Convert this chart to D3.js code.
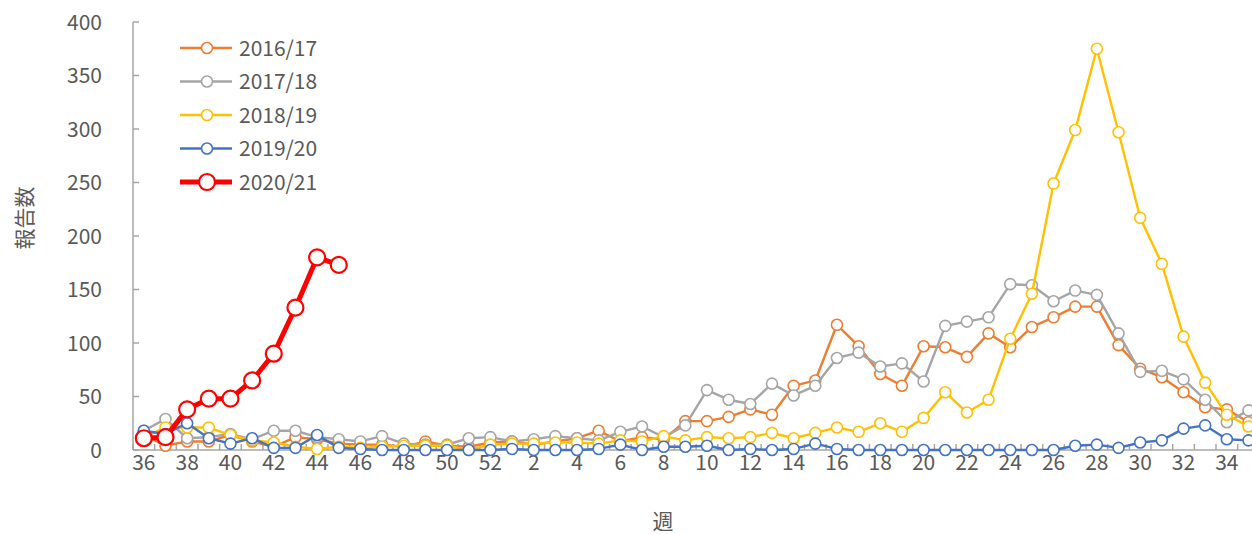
<!DOCTYPE html>
<html>
<head>
<meta charset="utf-8">
<script src="https://cdn.jsdelivr.net/npm/d3@7"></script>
<style>
  body { margin: 0; background: #ffffff; }
  #chart_div text { font-family: "Noto Sans CJK JP", "Noto Sans", sans-serif; fill: #595959; }
</style>
</head>
<body>
<div id="chart_div"></div>
<div id="chart_err"></div>
<script>
// Week numbers of the season (36..52, then 1..35)
var weeks = [36, 37, 38, 39, 40, 41, 42, 43, 44, 45, 46, 47, 48, 49, 50, 51, 52,
  1, 2, 3, 4, 5, 6, 7, 8, 9, 10, 11, 12, 13, 14, 15, 16, 17, 18, 19, 20,
  21, 22, 23, 24, 25, 26, 27, 28, 29, 30, 31, 32, 33, 34, 35];

var yTicks = [0, 50, 100, 150, 200, 250, 300, 350, 400];

var seasons = ["2016/17", "2017/18", "2018/19", "2019/20", "2020/21"];

// Reports per week
var s2016 = [14, 4, 8, 8, 14, 8, 3, 12, 10, 6, 5, 5, 3, 8, 4, 3, 7,
  8, 5, 8, 11, 18, 8, 12, 10, 27, 27, 31, 38, 33, 60, 65, 117, 97, 71, 60, 97,
  96, 87, 109, 96, 115, 124, 134, 134, 98, 76, 68, 54, 40, 38, 26];
var s2017 = [18, 29, 11, 12, 15, 10, 18, 18, 12, 10, 8, 13, 6, 5, 5, 11, 12,
  8, 10, 13, 11, 9, 17, 22, 12, 23, 56, 47, 43, 62, 51, 60, 86, 91, 78, 81, 64,
  116, 120, 124, 155, 154, 139, 149, 145, 109, 73, 74, 66, 47, 26, 37];
var s2018 = [12, 21, 21, 21, 14, 9, 7, 3, 1, 3, 2, 3, 4, 4, 4, 0, 5,
  6, 6, 7, 7, 6, 9, 8, 13, 9, 12, 11, 12, 16, 11, 16, 21, 17, 25, 17, 30,
  54, 35, 47, 104, 146, 249, 299, 375, 297, 217, 174, 106, 63, 33, 22];
var s2019 = [18, 15, 25, 11, 6, 11, 2, 2, 14, 2, 1, 0, 0, 0, 0, 0, 0,
  1, 0, 0, 0, 1, 5, 0, 3, 3, 4, 0, 1, 0, 1, 6, 1, 0, 0, 0, 0,
  0, 0, 0, 0, 0, 0, 4, 5, 2, 7, 9, 20, 23, 10, 9];
var s2020 = [11, 12, 38, 48, 48, 65, 90, 133, 180, 173];

var colors = ["#ED7D31", "#A5A5A5", "#FFC000", "#4472C4", "#FF0000"];

var ru = (function (d3) {
  "use strict";

  var loc_divErr = "chart_err";

  var private_methods = {
    errMsg: function (sMsg, ex) {
      document.getElementById(loc_divErr).innerHTML = "Error in [" + sMsg + "]<br>" + ex.message;
    },
    // Line width and marker size: the current season is drawn heavier
    styleOf: function (iIdx) {
      if (iIdx === 4) return { lw: 5, r: 8, sw: 2.2 };
      return { lw: 2.4, r: 5.5, sw: 1.6 };
    }
  };

  return {
    draw: function (sDiv) {
      var width = 1252, height = 534,
          left = 133, top = 22, bottom = 450,
          band = 21.66,
          svg = null, x = null, y = null, line = null,
          lData = [s2016, s2017, s2018, s2019, s2020],
          axisColor = "#A6A6A6";

      try {
        svg = d3.select(sDiv).append("svg")
          .attr("width", width)
          .attr("height", height);

        x = d3.scaleBand()
          .domain(d3.range(weeks.length))
          .range([left, left + band * weeks.length])
          .padding(0);
        y = d3.scaleLinear().domain([0, 400]).range([bottom, top]);

        // Y axis: line, inside ticks, labels
        svg.append("line")
          .attr("x1", left).attr("x2", left)
          .attr("y1", y(400)).attr("y2", y(0))
          .attr("stroke", axisColor).attr("stroke-width", 1.5);
        svg.selectAll(".ytick").data(yTicks).enter().append("line")
          .attr("x1", left).attr("x2", left + 6)
          .attr("y1", function (d) { return y(d); })
          .attr("y2", function (d) { return y(d); })
          .attr("stroke", axisColor).attr("stroke-width", 1.5);
        svg.selectAll(".ylab").data(yTicks).enter().append("text")
          .attr("x", 102)
          .attr("y", function (d) { return y(d); })
          .attr("dy", "0.36em")
          .attr("text-anchor", "end")
          .style("font-size", "21px")
          .text(function (d) { return d; });

        // X axis: line, ticks between categories, labels on every other week
        svg.append("line")
          .attr("x1", left).attr("x2", width)
          .attr("y1", bottom).attr("y2", bottom)
          .attr("stroke", axisColor).attr("stroke-width", 1.5);
        svg.selectAll(".xtick").data(d3.range(weeks.length + 1)).enter().append("line")
          .attr("x1", function (i) { return left + i * x.bandwidth(); })
          .attr("x2", function (i) { return left + i * x.bandwidth(); })
          .attr("y1", bottom).attr("y2", bottom - 6)
          .attr("stroke", axisColor).attr("stroke-width", 1.5);
        svg.selectAll(".xlab").data(d3.range(0, weeks.length, 2)).enter().append("text")
          .attr("x", function (i) { return x(i) + x.bandwidth() / 2; })
          .attr("y", 470)
          .attr("text-anchor", "middle")
          .style("font-size", "21px")
          .text(function (i) { return weeks[i]; });

        // Axis titles
        svg.append("text")
          .attr("x", 663).attr("y", 529)
          .attr("text-anchor", "middle")
          .style("font-size", "21px")
          .text("週");
        svg.append("text")
          .attr("transform", "translate(32,218) rotate(-90)")
          .attr("text-anchor", "middle")
          .style("font-size", "21px")
          .text("報告数");

        line = d3.line()
          .x(function (d, i) { return x(i) + x.bandwidth() / 2; })
          .y(function (d) { return y(d); });

        // Series, oldest first so the current season ends up on top
        lData.forEach(function (aVal, iIdx) {
          var oSt = private_methods.styleOf(iIdx),
              g = svg.append("g");
          g.append("path")
            .datum(aVal)
            .attr("d", line)
            .attr("fill", "none")
            .attr("stroke", colors[iIdx])
            .attr("stroke-width", oSt.lw)
            .attr("stroke-linejoin", "round");
          g.selectAll("circle").data(aVal).enter().append("circle")
            .attr("cx", function (d, i) { return x(i) + x.bandwidth() / 2; })
            .attr("cy", function (d) { return y(d); })
            .attr("r", oSt.r)
            .attr("fill", "#ffffff")
            .attr("stroke", colors[iIdx])
            .attr("stroke-width", oSt.sw);
        });

        // Legend
        var leg = svg.selectAll(".leg").data(seasons).enter().append("g")
          .attr("transform", function (d, i) { return "translate(180," + (48 + i * 33.5) + ")"; });
        leg.append("line")
          .attr("x1", 0).attr("x2", 52)
          .attr("stroke", function (d, i) { return colors[i]; })
          .attr("stroke-width", function (d, i) { return private_methods.styleOf(i).lw; });
        leg.append("circle")
          .attr("cx", 27)
          .attr("r", function (d, i) { return private_methods.styleOf(i).r; })
          .attr("fill", "#ffffff")
          .attr("stroke", function (d, i) { return colors[i]; })
          .attr("stroke-width", function (d, i) { return private_methods.styleOf(i).sw; });
        leg.append("text")
          .attr("x", 59)
          .attr("dy", "0.36em")
          .style("font-size", "21px")
          .text(function (d) { return d; });
      } catch (ex) {
        private_methods.errMsg("draw", ex);
      }
    }
  };
}(d3));

ru.draw("#chart_div");
</script>
</body>
</html>
